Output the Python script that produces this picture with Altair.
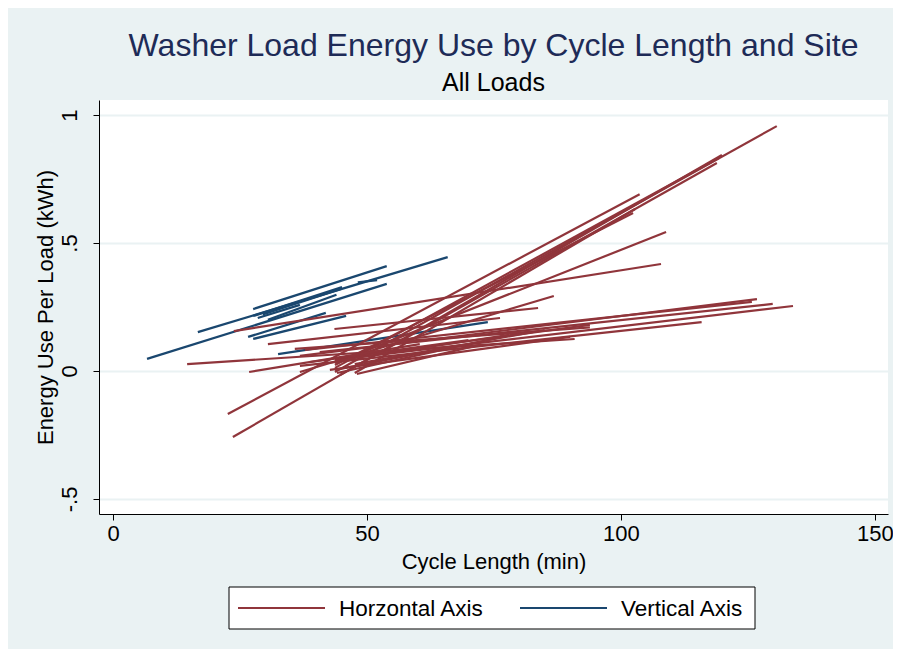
import altair as alt
import pandas as pd

# ---------------- data ----------------
series_names = ["Horzontal Axis", "Vertical Axis"]
series_colors = ["#90353b", "#1a476f"]

# Vertical-axis washers: one fitted segment per site (start x/y, end x/y)
blue_x1 = [16.7, 6.7, 27.6, 27.6, 26.6, 27.6, 32.5, 28.5, 48.2, 29.5, 30.5]
blue_y1 = [0.152, 0.047, 0.242, 0.215, 0.133, 0.125, 0.066, 0.207, 0.346, 0.221, 0.200]
blue_x2 = [65.9, 53.9, 53.9, 45.1, 41.9, 45.9, 73.8, 36.8, 52.0, 45.0, 44.0]
blue_y2 = [0.445, 0.340, 0.410, 0.328, 0.227, 0.215, 0.191, 0.258, 0.355, 0.322, 0.298]

# Horizontal-axis washers
red_x1 = [22.6, 23.6, 43.7, 43.7, 44.7, 47.6, 43.7, 43.7, 23.8, 14.6,
          30.5, 36.8, 36.8, 37.8, 40.7, 43.7, 36.8, 38.8, 42.7, 44.1,
          43.6, 35.8, 48.0, 43.7, 44.7, 43.7, 47.6, 26.8]
red_y1 = [-0.168, -0.258, -0.004, 0.012, -0.016, -0.008, 0.023, 0.031, 0.156, 0.027,
          0.105, -0.004, 0.059, 0.082, 0.074, 0.043, 0.020, 0.035, 0.004, -0.008,
          0.164, 0.086, -0.012, 0.039, 0.051, 0.004, 0.027, -0.004]
red_x2 = [103.7, 119.9, 130.7, 119.3, 118.9, 102.8, 102.4, 108.9, 107.9, 90.9,
          76.2, 86.8, 126.8, 125.8, 129.9, 133.9, 115.9, 93.9, 90.0, 80.1,
          83.7, 93.9, 72.2, 78.0, 70.0, 66.0, 85.0, 60.4]
red_y2 = [0.691, 0.844, 0.957, 0.832, 0.8125, 0.633, 0.617, 0.543, 0.418, 0.125,
          0.207, 0.293, 0.281, 0.270, 0.262, 0.254, 0.191, 0.180, 0.133, 0.148,
          0.246, 0.170, 0.102, 0.141, 0.121, 0.090, 0.160, 0.105]

x_ticks = [0, 50, 100, 150]
y_ticks = [-0.5, 0, 0.5, 1]
y_tick_labels = ["-.5", "0", ".5", "1"]


def segments(name, x1, y1, x2, y2, prefix):
    rows = []
    for i in range(len(x1)):
        rows.append({"seg": f"{prefix}{i}", "series": name, "x": x1[i], "y": y1[i], "o": 0})
        rows.append({"seg": f"{prefix}{i}", "series": name, "x": x2[i], "y": y2[i], "o": 1})
    return rows


blue_df = pd.DataFrame(segments(series_names[1], blue_x1, blue_y1, blue_x2, blue_y2, "b"))
red_df = pd.DataFrame(segments(series_names[0], red_x1, red_y1, red_x2, red_y2, "r"))

FONT = "Liberation Sans"
label_expr = " : ".join(
    f"datum.value == {v} ? '{l}'" for v, l in zip(y_ticks, y_tick_labels)
) + " : ''"

x_enc = alt.X(
    "x:Q",
    scale=alt.Scale(domain=[-2.76, 152.6], nice=False, zero=False),
    axis=alt.Axis(
        values=x_ticks, title="Cycle Length (min)", grid=False,
        labelFontSize=22, titleFontSize=22, labelPadding=3, titlePadding=7,
        tickSize=6, labelFlush=False,
    ),
)
y_enc = alt.Y(
    "y:Q",
    scale=alt.Scale(domain=[-0.559, 1.059], nice=False, zero=False),
    axis=alt.Axis(
        values=y_ticks, labelExpr=label_expr, title="Energy Use Per Load (kWh)",
        grid=True, labelAngle=270, labelAlign="center", labelBaseline="bottom",
        labelFontSize=22, titleFontSize=22, labelPadding=12, titlePadding=1,
        tickSize=6, labelFlush=False,
    ),
)
color_enc = alt.Color(
    "series:N",
    scale=alt.Scale(domain=series_names, range=series_colors),
    legend=None,
)

blue = alt.Chart(blue_df).mark_line(strokeWidth=2.3).encode(
    x=x_enc, y=y_enc, color=color_enc, detail="seg:N", order="o:Q"
)
red = alt.Chart(red_df).mark_line(strokeWidth=2.2).encode(
    x=x_enc, y=y_enc, color=color_enc, detail="seg:N", order="o:Q"
)

# ---------------- hand-built legend box below the plot ----------------
one = pd.DataFrame({"k": [0]})
legend_layers = [
    alt.Chart(one).mark_rect(fill="white", stroke="black", strokeWidth=1).encode(
        x=alt.value(130), x2=alt.value(656), y=alt.value(487), y2=alt.value(529)
    )
]
sym_left = [139, 421]
for i, (name, col) in enumerate(zip(series_names, series_colors)):
    legend_layers.append(
        alt.Chart(one).mark_rule(color=col, strokeWidth=2.2).encode(
            x=alt.value(sym_left[i]), x2=alt.value(sym_left[i] + 87), y=alt.value(508)
        )
    )
    legend_layers.append(
        alt.Chart(one).mark_text(
            text=name, font=FONT, fontSize=22.5, color="black",
            align="left", baseline="middle",
        ).encode(x=alt.value(sym_left[i] + 101), y=alt.value(509))
    )

chart = (
    alt.layer(blue, red, *legend_layers)
    .properties(
        width=789, height=414,
        title=alt.TitleParams(
            "Washer Load Energy Use by Cycle Length and Site",
            subtitle="All Loads",
            fontSize=32, subtitleFontSize=25, font=FONT, subtitleFont=FONT,
            color="#1e2b57", subtitleColor="black", fontWeight="normal",
            anchor="middle", offset=3, subtitlePadding=8,
        ),
        autosize=alt.AutoSizeParams(type="none"),
        padding={"left": 91, "top": 92, "right": 5, "bottom": 135},
        background="#eaf2f3",
    )
    .configure_view(fill="white", stroke=None)
    .configure_axis(
        labelFont=FONT, titleFont=FONT, labelColor="black", titleColor="black",
        domainColor="black", tickColor="black", domainWidth=1, tickWidth=1,
        gridColor="#eaf2f3", gridWidth=2, titleFontWeight="normal",
    )
)

chart.save("out.html", embed_options={"renderer": "svg", "actions": False})
